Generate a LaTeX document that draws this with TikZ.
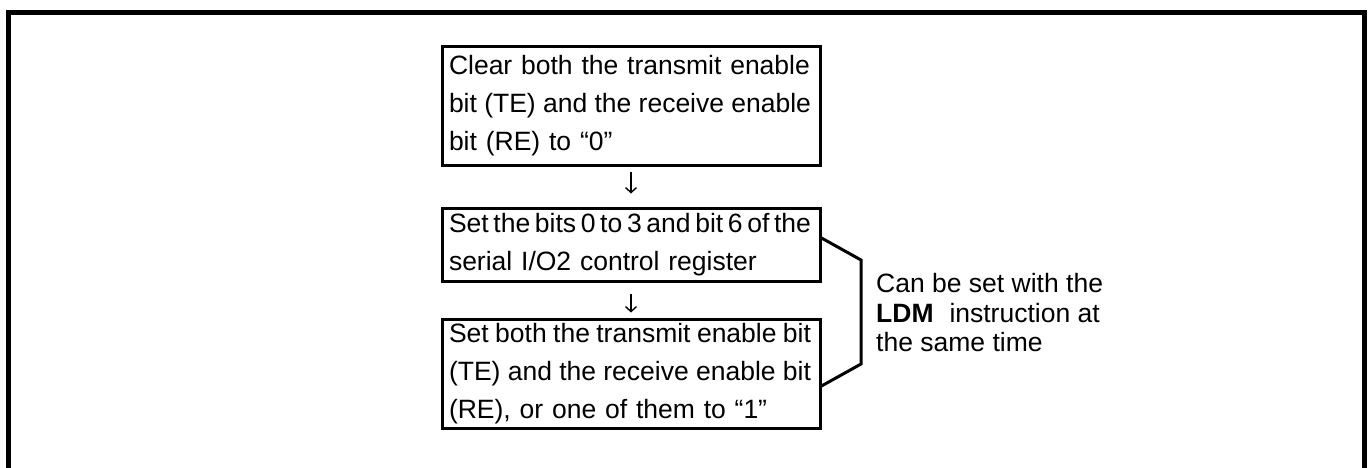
\documentclass[tikz,border=0pt]{standalone}
\usepackage{fontspec}
\usepackage{graphicx}
\setmainfont{Liberation Sans}
\usetikzlibrary{arrows.meta}
\hbadness=10000
\hfuzz=20pt
\newcommand\fitln[1]{\leavevmode\sbox0{#1}\ifdim\wd0>362pt
  \hbox to 362pt{\spaceskip=\fontdimen2\font minus 0.65\fontdimen2\font\relax #1}\else\usebox0\fi}
\begin{document}
\begin{tikzpicture}[x=1pt,y=1pt,
  stepbox/.style={draw, line width=3pt, rectangle, minimum width=378pt, text width=364pt,
    inner xsep=7pt, inner ysep=0pt, align=left, anchor=center,
    font=\fontsize{26.5}{38}\selectfont},
  flowarrow/.style={-{Straight Barb[length=5pt,width=11pt]}, line width=1.4pt},
  bracket/.style={line width=3pt, line join=miter},
  note/.style={align=left, font=\fontsize{26.5}{29.5}\selectfont, inner sep=0pt, anchor=west}]
\useasboundingbox (0,0) rectangle (1372,-468);
\draw[line width=5pt, line join=miter] (8.5,-468) -- (8.5,-12.5) -- (1364.5,-12.5) -- (1364.5,-468);
\node[stepbox, minimum height=118pt] (b1) at (631,-106)
  {\fitln{Clear both the transmit enable}\\\fitln{bit (TE) and the receive enable}\\\fitln{bit (RE) to “0”}};
\node[stepbox, minimum height=73pt] (b2) at (631,-244.5)
  {\fitln{Set the bits 0 to 3 and bit 6 of the}\\\fitln{serial I/O2 control register}};
\node[stepbox, minimum height=109pt] (b3) at (631,-373.5)
  {\fitln{Set both the transmit enable bit}\\\fitln{(TE) and the receive enable bit}\\\fitln{(RE), or one of them to “1”}};
\draw[flowarrow, shorten <=5pt, shorten >=13pt] (b1.south) -- (b2.north);
\draw[flowarrow, shorten <=11pt, shorten >=5pt] (b2.south) -- (b3.north);
\coordinate (k1) at (861,-260);
\coordinate (k2) at (861,-364);
\draw[bracket] ([yshift=6.5pt]b2.east) -- (k1) -- (k2) -- ([yshift=-12.5pt]b3.east);
\node[note] (n) at (876,-313)
  {Can be set with the\\\textbf{LDM}\hspace{0.6em}instruction at\\the same time};
\end{tikzpicture}
\end{document}
